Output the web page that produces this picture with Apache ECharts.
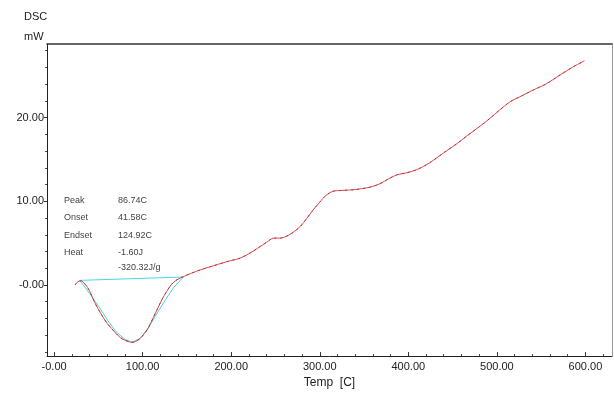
<!DOCTYPE html>
<html>
<head>
<meta charset="utf-8">
<script src="https://cdn.jsdelivr.net/npm/echarts@6/dist/echarts.min.js"></script>
<style>
html,body{margin:0;padding:0;background:#fff;}
#c{width:614px;height:394px;}
</style>
</head>
<body>
<div id="c"></div>
<script>
// Temperature (C) and DSC heat flow (mW)
var tempC = [23.7, 27, 30, 35, 40, 45, 50, 55, 60, 65, 70, 75, 80, 85, 88, 92, 97, 102, 107, 112, 117, 122, 127, 132, 137, 142, 146,
  155, 165, 180, 199, 210, 221, 230, 240, 248, 255, 262, 270, 278, 285, 292, 300, 307, 315, 325, 340, 357, 368, 378, 388, 398,
  410, 424, 440, 455, 466, 480, 492, 503, 515, 528, 541, 555, 570, 585, 599];
var dscMW = [0.0, 0.4, 0.5, 0.1, -0.7, -1.9, -2.9, -3.8, -4.6, -5.2, -5.8, -6.3, -6.6, -6.8, -6.85, -6.75, -6.4, -5.8, -5.0, -3.9, -2.8, -1.7, -0.8, 0.0, 0.5, 0.8, 1.0,
  1.4, 1.8, 2.3, 2.9, 3.2, 3.8, 4.4, 5.1, 5.6, 5.6, 5.8, 6.3, 7.0, 7.9, 8.9, 9.9, 10.7, 11.2, 11.3, 11.4, 11.7, 12.1, 12.7, 13.2, 13.4,
  13.8, 14.6, 15.8, 16.9, 17.8, 18.9, 19.9, 20.9, 21.9, 22.6, 23.3, 24.0, 25.0, 26.0, 26.8];

// Integration (cyan) construction: baseline and peak sides
var cyanT = [146, 29, 40, 50, 61, 70, 80, 88, 97, 105, 115, 125, 135, 146];
var cyanMW = [0.95, 0.55, -1.0, -2.5, -4.3, -5.6, -6.5, -6.85, -6.4, -5.4, -3.6, -1.9, -0.3, 0.95];

var xTicks = [0, 100, 200, 300, 400, 500, 600];
var xMinorTicks = [20, 40, 60, 80, 120, 140, 160, 180, 220, 240, 260, 280, 320, 340, 360, 380, 420, 440, 460, 480, 520, 540, 560, 580, 620];
var yTicks = [0, 10, 20];
var yMinorTicks = [-8, -6, -4, -2, 2, 4, 6, 8, 12, 14, 16, 18, 22, 24, 26, 28];

var annLabels = ['Peak', 'Onset', 'Endset', 'Heat', ''];
var annValues = ['86.74C', '41.58C', '124.92C', '-1.60J', '-320.32J/g'];

var X_MIN = -8, X_MAX = 630, Y_MIN = -8.5, Y_MAX = 28.8;

function fmt(v) { return v === 0 ? '-0.00' : v.toFixed(2); }
function zip(a, b) { return a.map(function (v, i) { return [v, b[i]]; }); }

var chart = echarts.init(document.getElementById('c'), null, { renderer: 'canvas' });

var txtFont = 'Liberation Sans, Arial, sans-serif';
var graphics = [
  { type: 'text', left: 24, top: 11, style: { text: 'DSC', font: '11px ' + txtFont, fill: '#222' } },
  { type: 'text', left: 24, top: 31, style: { text: 'mW', font: '11px ' + txtFont, fill: '#222' } }
];
var rowY = [196, 213, 231, 248, 263];
annLabels.forEach(function (l, i) {
  if (l) graphics.push({ type: 'text', left: 64, top: rowY[i], style: { text: l, font: '9px ' + txtFont, fill: '#444' } });
  graphics.push({ type: 'text', left: 118, top: rowY[i], style: { text: annValues[i], font: '9px ' + txtFont, fill: '#444' } });
});

var option = {
  backgroundColor: '#fff',
  animation: false,
  grid: { left: 47, top: 44, right: 2, bottom: 37, containLabel: false },
  graphic: graphics,
  xAxis: [
    {
      type: 'value', min: X_MIN, max: X_MAX, position: 'bottom',
      name: 'Temp  [C]', nameLocation: 'middle', nameGap: 19,
      nameTextStyle: { fontFamily: txtFont, fontSize: 12, color: '#222' },
      axisLine: { show: true, onZero: false, lineStyle: { color: '#222', width: 1 } },
      axisTick: { show: true, inside: true, length: 4, customValues: xTicks, lineStyle: { color: '#333' } },
      axisLabel: { customValues: xTicks, formatter: fmt, fontFamily: txtFont, fontSize: 11, color: '#222', margin: 5 },
      splitLine: { show: false }
    },
    {
      type: 'value', min: X_MIN, max: X_MAX, position: 'bottom',
      axisLine: { show: false, onZero: false },
      axisTick: { show: true, inside: true, length: 2, customValues: xMinorTicks, lineStyle: { color: '#444' } },
      axisLabel: { show: false },
      splitLine: { show: false }
    },
    {
      type: 'value', min: X_MIN, max: X_MAX, position: 'top',
      axisLine: { show: true, onZero: false, lineStyle: { color: '#333', width: 1.5 } },
      axisTick: { show: false }, axisLabel: { show: false }, splitLine: { show: false }
    }
  ],
  yAxis: [
    {
      type: 'value', min: Y_MIN, max: Y_MAX, position: 'left',
      axisLine: { show: true, onZero: false, lineStyle: { color: '#222', width: 1 } },
      axisTick: { show: true, length: 3, customValues: yTicks, lineStyle: { color: '#333' } },
      axisLabel: { customValues: yTicks, formatter: fmt, fontFamily: txtFont, fontSize: 11, color: '#222', margin: 3 },
      splitLine: { show: false }
    },
    {
      type: 'value', min: Y_MIN, max: Y_MAX, position: 'left',
      axisLine: { show: false, onZero: false },
      axisTick: { show: true, length: 2, customValues: yMinorTicks, lineStyle: { color: '#444' } },
      axisLabel: { show: false },
      splitLine: { show: false }
    },
    {
      type: 'value', min: Y_MIN, max: Y_MAX, position: 'right',
      axisLine: { show: true, onZero: false, lineStyle: { color: '#999', width: 1 } },
      axisTick: { show: false }, axisLabel: { show: false }, splitLine: { show: false }
    }
  ],
  series: [
    {
      type: 'line', data: zip(cyanT, cyanMW), showSymbol: false, smooth: false,
      lineStyle: { color: '#48d8e0', width: 1 }, z: 3
    },
    {
      type: 'line', data: zip(tempC, dscMW), showSymbol: false, smooth: 0.3,
      lineStyle: { color: '#e84848', width: 1 }, z: 4
    },
    {
      type: 'line', data: zip(tempC, dscMW), showSymbol: false, smooth: 0.3,
      lineStyle: { color: '#7a3040', width: 0.8, type: [2, 4] }, z: 5
    }
  ]
};
chart.setOption(option);
</script>
</body>
</html>
